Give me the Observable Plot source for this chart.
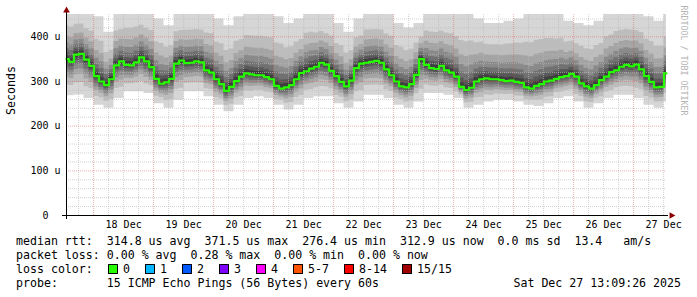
<!DOCTYPE html>
<html><head><meta charset="utf-8">
<script src="https://cdn.jsdelivr.net/npm/d3@7"></script>
<script src="https://cdn.jsdelivr.net/npm/@observablehq/plot@0.6"></script>
<style>
html,body{margin:0;padding:0;background:#fff;}
#wrap{position:relative;width:697px;height:297px;overflow:hidden;background:#fff;}
#chart svg{display:block;}
.leg{position:absolute;font-family:"DejaVu Sans Mono",monospace;font-size:11.6px;line-height:14px;white-space:pre;color:#000;}
.box{position:absolute;width:8px;height:8px;border:1px solid #000;}
</style></head>
<body><div id="wrap"><div id="chart"></div><div id="legend"></div></div>
<script>
// ---- data ----
const startTime = Date.UTC(2025, 11, 17, 13, 9, 26);   // left edge of graph
const spanHours = 240;
const stepHours = 2;          // median sampled every 2 h
const median = [
  350,344,360,362,349,335,312,300,292,305,
  336,345,337,336,343,354,345,332,306,295,
  298,306,340,347,341,342,345,343,325,320,
  305,294,279,288,301,311,318,316,314,314,
  310,305,290,284,287,292,305,319,323,329,
  333,342,338,324,312,299,289,302,330,340,
  342,344,346,342,327,314,300,289,287,294,
  315,350,337,330,328,335,325,320,311,288,
  281,286,300,305,307,305,305,303,301,302,
  299,297,287,284,290,294,300,302,306,310,
  312,317,311,296,289,284,292,303,311,321,
  325,333,337,334,338,327,312,299,287,288,
  318
];
const spreadStepHours = 4;    // smoke extents sampled every 4 h
const lowest = [
  268,270,262,247,240,262,277,277,273,250,
  240,258,277,277,266,247,232,247,262,266,
  262,247,236,247,262,266,266,250,240,254,
  269,269,262,247,240,254,273,273,269,262,
  240,247,254,258,258,254,247,244,250,262,
  266,254,240,250,262,269,269,262,247,240,
  254
];
const highest = [
  470,470,460,445,410,460,470,470,465,440,
  425,455,460,460,460,440,425,445,455,455,
  455,445,430,440,460,455,450,430,410,440,
  460,460,455,430,420,430,460,460,460,455,
  455,440,430,430,435,440,450,455,455,450,
  435,430,425,435,455,465,465,460,445,435,
  450
];
// smoke layers, outermost (min..max ping) to innermost
const smokeGray = ["#d6d6d6","#bdbdbd","#a4a4a4","#8a8a8a","#717171","#585858","#3e3e3e"];
const lowerFrac = [1, 0.7, 0.5, 0.37, 0.25, 0.14, 0.07];
const upperFrac = [1, 0.62, 0.43, 0.3, 0.2, 0.12, 0.06];
const yMax = 450;
const yTicks = [0, 100, 200, 300, 400];
const statsLines = [
  "median rtt:  314.8 us avg  371.5 us max  276.4 us min  312.9 us now  0.0 ms sd  13.4   am/s",
  "packet loss: 0.00 % avg  0.28 % max  0.00 % min  0.00 % now"
];
const lossLabels = ["0","1","2","3","4","5-7","8-14","15/15"];
const lossColors = ["#26ff00","#00b8ff","#0059ff","#7e00ff","#ff00ff","#ff5500","#ff0000","#a10000"];
const probeText = "probe:       15 ICMP Echo Pings (56 Bytes) every 60s";
const dateText = "Sat Dec 27 13:09:26 2025";
const watermark = "RRDTOOL / TOBI OETIKER";
const yLabel = "Seconds";

// ---- build ----
const H = 3600e3;
const start = new Date(startTime);
const end = new Date(startTime + spanHours * H);
const rows = median.map((m, i) => {
  const j = Math.floor(i * stepHours / spreadStepHours);
  return {t: new Date(startTime + i * stepHours * H), m, lo: lowest[j], hi: highest[j]};
});
const frameTop = 14, frameBottom = 215;

const midnights = d3.utcDay.range(start, end);
const sixHours = d3.utcHour.every(6).range(start, end).filter(d => d.getUTCHours() !== 0);
const noons = midnights.map(d => new Date(+d + 12 * H)).filter(d => d <= end);
const yMinor = d3.range(20, yMax, 20).filter(v => v % 100);
const yMajor = yTicks.filter(v => v > 0);

const minorStyle = {stroke: "#BABABA", strokeOpacity: 0.65, strokeDasharray: "1,1"};
const majorStyle = {stroke: "#E05050", strokeOpacity: 0.45, strokeDasharray: "1,1"};

const smokeMarks = smokeGray.map((c, k) => Plot.areaY(rows, {
  x: "t",
  y1: d => d.m - lowerFrac[k] * (d.m - d.lo),
  y2: d => d.m + upperFrac[k] * (d.hi - d.m),
  curve: "step", fill: c, clip: true
}));

const chart = Plot.plot({
  width: 697, height: 232,
  marginLeft: 66, marginRight: 31, marginTop: frameTop, marginBottom: 232 - frameBottom,
  style: {fontFamily: "DejaVu Sans Mono", fontSize: "10px", background: "#fff", color: "#000", overflow: "visible"},
  x: {type: "utc", domain: [start, end]},
  y: {domain: [0, yMax]},
  marks: [
    ...smokeMarks,
    Plot.ruleY(yMinor, minorStyle),
    Plot.ruleX(sixHours, minorStyle),
    Plot.ruleY(yMajor, majorStyle),
    Plot.ruleX(midnights, majorStyle),
    Plot.line(rows, {x: "t", y: "m", curve: "step", stroke: "#26ff00", strokeWidth: 2.2}),
    Plot.ruleY([0], {stroke: "#000", insetLeft: -4, insetRight: -2}),
    Plot.ruleX([start], {stroke: "#000", insetBottom: -4, insetTop: -3}),
    Plot.dot([{x: end, y: 0}], {x: "x", y: "y", symbol: "triangle", rotate: 90, r: 2.5, fill: "#8b0000", dx: 5}),
    Plot.dot([{x: start, y: yMax}], {x: "x", y: "y", symbol: "triangle", r: 2.5, fill: "#8b0000", dy: -4}),
    Plot.axisY({ticks: yTicks, tickFormat: d => d === 0 ? "0\u00a0\u00a0" : `${d} u`, tickSize: 0, tickPadding: 6, label: null, fill: "#000"}),
    Plot.axisX({ticks: noons, tickFormat: d3.utcFormat("%-d %b"), tickSize: 0, tickPadding: 5, label: null, fill: "#000"}),
    Plot.text([yLabel], {text: d => d, frameAnchor: "left", dx: -55, rotate: -90, fontFamily: "DejaVu Sans Mono", fontSize: 11.6, fill: "#000"}),
    Plot.text([watermark], {text: d => d, frameAnchor: "top-right", dx: 20, dy: -9, rotate: 90, textAnchor: "start", fontSize: 8.3, fill: "#b4b4b4"})
  ]
});
document.getElementById("chart").appendChild(chart);

// ---- legend ----
const legend = document.getElementById("legend");
const charW = 7, left0 = 16, top0 = 234, lineH = 14;
function addText(text, left, top, right) {
  const s = document.createElement("div");
  s.className = "leg";
  s.textContent = text;
  s.style.top = top + "px";
  if (right != null) s.style.right = right + "px"; else s.style.left = left + "px";
  legend.appendChild(s);
}
statsLines.forEach((t, i) => addText(t, left0, top0 + i * lineH));
addText("loss color:", left0, top0 + 2 * lineH);
let bx = left0 + 13 * charW + 1;
lossLabels.forEach((lab, i) => {
  const b = document.createElement("div");
  b.className = "box";
  b.style.left = bx + "px";
  b.style.top = (top0 + 2 * lineH + 2) + "px";
  b.style.background = lossColors[i];
  legend.appendChild(b);
  addText(lab, bx + 15, top0 + 2 * lineH);
  bx = bx + 15 + lab.length * charW + 15;
});
addText(probeText, left0, top0 + 3 * lineH);
addText(dateText, 0, top0 + 3 * lineH, 16);
</script>
</body></html>
